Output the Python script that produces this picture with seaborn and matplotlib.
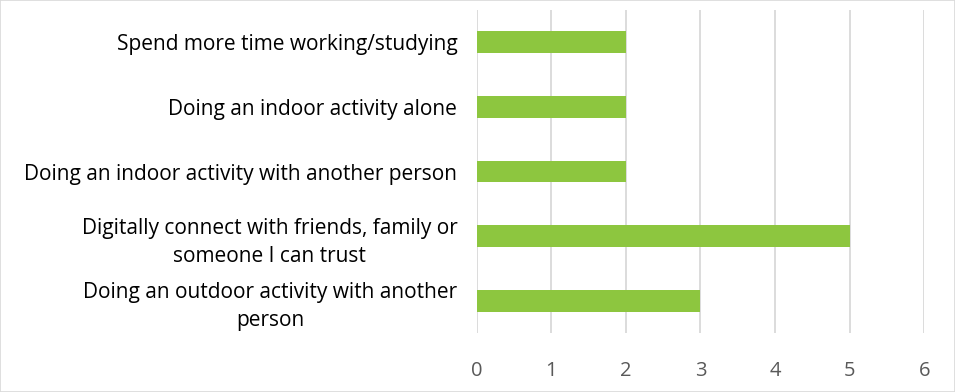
import matplotlib
matplotlib.use("Agg")
import matplotlib.pyplot as plt
import seaborn as sns
import pandas as pd

categories = [
    "Spend more time working/studying",
    "Doing an indoor activity alone",
    "Doing an indoor activity with another person",
    "Digitally connect with friends, family or\nsomeone I can trust",
    "Doing an outdoor activity with another\nperson",
]
counts = [2, 2, 2, 5, 3]
x_ticks = [0, 1, 2, 3, 4, 5, 6]

df = pd.DataFrame({"activity": categories, "count": counts})

sns.set_theme(style="white")
plt.rcParams["font.family"] = ["Open Sans", "DejaVu Sans"]

fig = plt.figure(figsize=(9.55, 3.92), dpi=100)
ax = fig.add_axes([0.4992, 0.1505, 0.4686, 0.8240])

sns.barplot(data=df, x="count", y="activity", orient="h", color="#8DC63F",
            saturation=1, width=0.34, linewidth=0, ax=ax)

ax.set_xlim(0, 6)
ax.set_xticks(x_ticks)
ax.set_xticklabels([str(t) for t in x_ticks])
ax.grid(axis="x", color="#d9d9d9", linewidth=1.3)
ax.set_axisbelow(True)
for s in ax.spines.values():
    s.set_visible(False)
ax.set_xlabel("")
ax.set_ylabel("")
ax.tick_params(axis="x", length=0, pad=20, labelsize=14.5, labelcolor="#595959")
ax.tick_params(axis="y", length=0, pad=14, labelsize=15, labelcolor="#000000")
for lbl in ax.get_yticklabels():
    lbl.set_multialignment("center")
    lbl.set_linespacing(1.45)

# thin border round the whole figure
fig.patches.append(plt.Rectangle((0.0005, 0.001), 0.999, 0.998, transform=fig.transFigure,
                                 fill=False, edgecolor="#d9d9d9", linewidth=1.2))

fig.savefig("out.png", dpi=100)
